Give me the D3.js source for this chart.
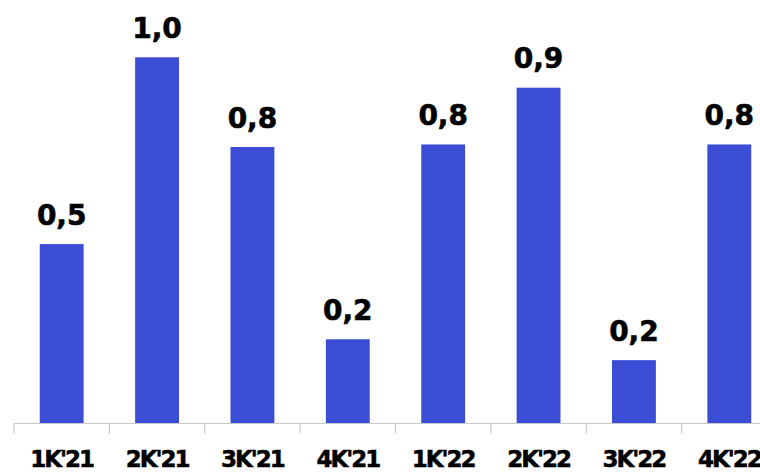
<!DOCTYPE html>
<html>
<head>
<meta charset="utf-8">
<script src="https://cdn.jsdelivr.net/npm/d3@7"></script>
<style>
  html, body { margin: 0; padding: 0; background: #fff; overflow: hidden; }
  svg { display: block; }
</style>
</head>
<body>
<svg id="chart" width="760" height="472"></svg>
<script>
// Quarterly values
const quarters = ["1K'21", "2K'21", "3K'21", "4K'21", "1K'22", "2K'22", "3K'22", "4K'22"];
const values = [0.49, 1.00, 0.755, 0.23, 0.762, 0.917, 0.173, 0.762];

const W = 760, H = 472;
const baseY = 423.5;
const svg = d3.select("#chart");

const x = d3.scaleBand()
  .domain(quarters)
  .range([14, 777])
  .paddingInner(0.54)
  .paddingOuter(0.27);

const y = d3.scaleLinear()
  .domain([0, 1])
  .range([baseY, 57.3]);

const fmt = v => d3.format(".1f")(v).replace(".", ",");

// Bars
svg.append("g").selectAll("rect")
  .data(values)
  .join("rect")
  .attr("x", (d, i) => x(quarters[i]))
  .attr("y", d => y(d))
  .attr("width", x.bandwidth())
  .attr("height", d => baseY - y(d))
  .attr("fill", "#3c4dd5");

// Value labels
svg.append("g").selectAll("text")
  .data(values)
  .join("text")
  .attr("x", (d, i) => x(quarters[i]) + x.bandwidth() / 2)
  .attr("y", d => y(d) - 19.5)
  .attr("text-anchor", "middle")
  .attr("font-family", "DejaVu Sans, sans-serif")
  .attr("font-weight", "bold")
  .attr("font-size", 28)
  .attr("fill", "#000")
  .attr("stroke", "#000")
  .attr("stroke-width", 0.6)
  .text(d => fmt(d));

// Baseline with separators between categories
const axis = svg.append("g").attr("stroke", "#c8c8c8").attr("stroke-width", 1.2);
const [r0, r1] = x.range();
axis.append("line")
  .attr("x1", r0).attr("x2", r1)
  .attr("y1", baseY).attr("y2", baseY);
axis.selectAll("line.sep")
  .data(d3.range(quarters.length + 1))
  .join("line")
  .attr("class", "sep")
  .attr("x1", i => r0 + i * x.step())
  .attr("x2", i => r0 + i * x.step())
  .attr("y1", baseY).attr("y2", baseY + 10);

// Category labels
svg.append("g").selectAll("text")
  .data(quarters)
  .join("text")
  .attr("x", d => x(d) + x.bandwidth() / 2)
  .attr("y", 466.7)
  .attr("text-anchor", "middle")
  .attr("font-family", "DejaVu Sans, sans-serif")
  .attr("font-weight", "bold")
  .attr("font-size", 23)
  .attr("letter-spacing", -2)
  .attr("fill", "#000")
  .attr("stroke", "#000")
  .attr("stroke-width", 0.5)
  .text(d => d);
</script>
</body>
</html>
